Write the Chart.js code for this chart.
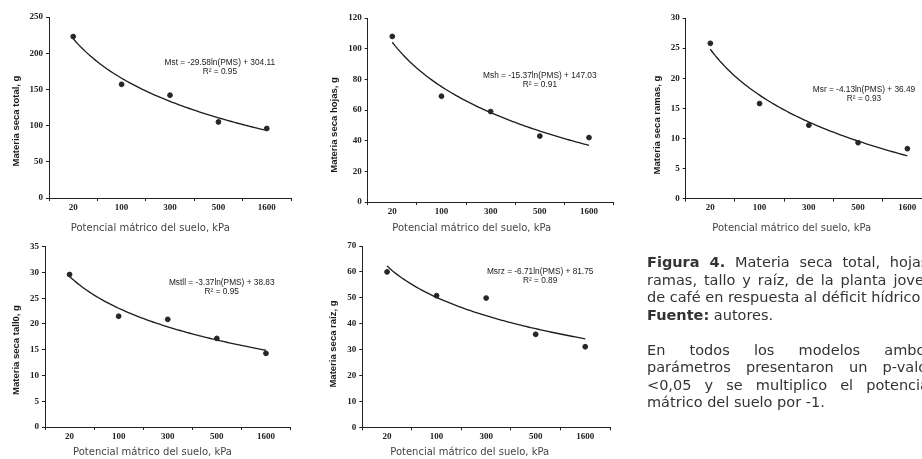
<!DOCTYPE html>
<html>
<head>
<meta charset="utf-8">
<script src="https://cdn.jsdelivr.net/npm/chart.js@4.4.1/dist/chart.umd.min.js"></script>
<style>
  html, body { margin: 0; padding: 0; background: #fff; }
  body { width: 922px; height: 459px; overflow: hidden; position: relative; }
  canvas { position: absolute; left: 0; top: 0; }
  #nota { position: absolute; left: 647px; top: 254px; width: 286px;
          font-family: "DejaVu Sans", Verdana, sans-serif; font-size: 14.5px;
          line-height: 17.5px; color: #333; }
  #nota .j { text-align: justify; text-align-last: justify; }
  #nota .gap { height: 17.5px; }
</style>
</head>
<body>
<canvas id="g1" width="940" height="459"></canvas>
<canvas id="g2" width="940" height="459"></canvas>
<canvas id="g3" width="940" height="459"></canvas>
<canvas id="g4" width="940" height="459"></canvas>
<canvas id="g5" width="940" height="459"></canvas>
<div id="nota">
  <div class="j"><b>Figura 4.</b> Materia seca total, hojas,</div>
  <div class="j">ramas, tallo y raíz, de la planta joven</div>
  <div>de café en respuesta al déficit hídrico</div>
  <div><b>Fuente:</b> autores.</div>
  <div class="gap"></div>
  <div class="j">En todos los modelos ambos</div>
  <div class="j">parámetros presentaron un p-valor</div>
  <div class="j">&lt;0,05 y se multiplico el potencial</div>
  <div>mátrico del suelo por -1.</div>
</div>
<script>
// datos
const potencial = ['20', '100', '300', '500', '1600'];
const msTotal = [223, 157, 142, 105, 96];
const msHojas = [108, 69, 59, 43, 42];
const msRamas = [25.8, 15.8, 12.2, 9.3, 8.3];
const msTallo = [29.6, 21.5, 20.9, 17.2, 14.3];
const msRaiz  = [60.0, 50.8, 49.9, 35.9, 31.1];

const yMax  = [250, 120, 30, 35, 70];
const yPaso = [50, 20, 5, 5, 10];

const tituloX = 'Potencial mátrico del suelo, kPa';
const titulosY = ['Materia seca total, g', 'Materia seca hojas, g', 'Materia seca ramas, g',
                  'Materia seca tall0, g', 'Materia seca raíz, g'];
const ecuaciones = ['Mst = -29.58ln(PMS) + 304.11', 'Msh = -15.37ln(PMS) + 147.03',
                    'Msr = -4.13ln(PMS) + 36.49', 'Mstll = -3.37ln(PMS) + 38.83',
                    'Msrz = -6.71ln(PMS) + 81.75'];
const r2 = ['R² = 0.95', 'R² = 0.91', 'R² = 0.93', 'R² = 0.95', 'R² = 0.89'];

// posiciones: area del grafico [izq, arriba, der, abajo], titulos y ecuacion
const paneles = [
  { id: 'g1', datos: msTotal, area: [49, 17, 291, 198],      yTit: [16, 121],  xTit: [150.3, 228], eq: [4.03, 186.5] },
  { id: 'g2', datos: msHojas, area: [367.7, 18, 613.6, 202], yTit: [334, 125], xTit: [471.7, 228], eq: [4.0, 82.2] },
  { id: 'g3', datos: msRamas, area: [685.7, 18, 932, 198.7], yTit: [657, 125], xTit: [791.7, 228], eq: [4.12, 18.05] },
  { id: 'g4', datos: msTallo, area: [45, 246.7, 290.5, 427],  yTit: [16, 350],  xTit: [152.5, 452], eq: [4.1, 28.0] },
  { id: 'g5', datos: msRaiz,  area: [362.3, 246, 610, 427.3], yTit: [333, 344], xTit: [469.7, 452], eq: [4.09, 60.1] }
];

const ANCHO = 940, ALTO = 459, EJE_Y = 30, EJE_X = 20;
const NEGRO = '#222';
const fuenteTicks = { family: '"Liberation Serif", "Times New Roman", serif', size: 9, weight: 'bold' };

// tendencia logaritmica (minimos cuadrados sobre la posicion de cada categoria)
ajusteLog = (valores) => {
    const xs = valores.map((v, i) => Math.log(i + 1));
    const n = valores.length;
    const mx = xs.reduce((a, b) => a + b, 0) / n;
    const my = valores.reduce((a, b) => a + b, 0) / n;
    let sxy = 0, sxx = 0;
    xs.forEach((x, i) => { sxy += (x - mx) * (valores[i] - my); sxx += (x - mx) * (x - mx); });
    const a = sxy / sxx;
    return { a: a, b: my - a * mx };
}

curva = (valores) => {
    const { a, b } = ajusteLog(valores);
    const pts = [];
    for (let k = 0; k <= 80; k++) {
        const x = 1 + k * 0.05;
        pts.push({ x: x, y: a * Math.log(x) + b });
    }
    return pts;
}

const rotulos = {
    id: 'rotulos',
    afterDatasetsDraw(chart, args, o) {
        const { ctx, scales } = chart;
        ctx.save();
        ctx.fillStyle = '#1a1a1a';
        ctx.textAlign = 'center';
        ctx.textBaseline = 'middle';

        ctx.font = '8.3px "Liberation Sans", Arial, sans-serif';
        const ex = scales.x.getPixelForValue(o.eq[0]);
        const ey = scales.y.getPixelForValue(o.eq[1]);
        ctx.fillText(o.ecuacion, ex, ey);
        ctx.fillText(o.r2, ex, ey + 9);

        ctx.fillStyle = '#444';
        ctx.font = '10px "DejaVu Sans", Verdana, sans-serif';
        ctx.fillText(o.tituloX, o.xTit[0], o.xTit[1]);

        ctx.fillStyle = '#1a1a1a';
        ctx.font = 'bold 9.5px "Liberation Sans", Arial, sans-serif';
        ctx.translate(o.yTit[0], o.yTit[1]);
        ctx.rotate(-Math.PI / 2);
        ctx.fillText(o.tituloY, 0, 0);
        ctx.restore();
    }
};

drawPanel = (p, i) => {
    const [izq, arr, der, aba] = p.area;
    new Chart(document.getElementById(p.id), {
        type: 'scatter',
        data: {
            datasets: [{
                data: p.datos.map((v, k) => ({ x: k + 1, y: v })),
                backgroundColor: '#262626',
                borderColor: '#262626',
                pointRadius: 2.4,
                pointHoverRadius: 2.4
            }, {
                type: 'line',
                data: curva(p.datos),
                borderColor: '#1e1e1e',
                borderWidth: 1.35,
                pointRadius: 0,
                fill: false,
                tension: 0
            }]
        },
        options: {
            responsive: false,
            animation: false,
            events: [],
            layout: { padding: { left: izq - EJE_Y, top: arr, right: ANCHO - der, bottom: ALTO - aba - EJE_X } },
            plugins: {
                legend: { display: false },
                tooltip: { enabled: false },
                rotulos: { eq: p.eq, ecuacion: ecuaciones[i], r2: r2[i], tituloX: tituloX,
                           tituloY: titulosY[i], xTit: p.xTit, yTit: p.yTit }
            },
            scales: {
                x: {
                    type: 'linear', min: 0.5, max: 5.5,
                    afterFit: (s) => { s.height = EJE_X; },
                    ticks: {
                        stepSize: 0.5, autoSkip: false, maxRotation: 0, padding: 1,
                        font: fuenteTicks, color: NEGRO,
                        callback: (v) => Number.isInteger(v) ? potencial[v - 1] : ''
                    },
                    grid: {
                        drawOnChartArea: false, tickLength: 3,
                        tickColor: (c) => Number.isInteger(c.tick.value) ? 'rgba(0,0,0,0)' : NEGRO
                    },
                    border: { color: NEGRO, width: 1 }
                },
                y: {
                    min: 0, max: yMax[i],
                    afterFit: (s) => { s.width = EJE_Y; },
                    ticks: { stepSize: yPaso[i], padding: 3, font: fuenteTicks, color: NEGRO },
                    grid: { drawOnChartArea: false, tickLength: 3, tickColor: NEGRO },
                    border: { color: NEGRO, width: 1 }
                }
            }
        },
        plugins: [rotulos]
    });
}

paneles.forEach(drawPanel);
</script>
</body>
</html>
